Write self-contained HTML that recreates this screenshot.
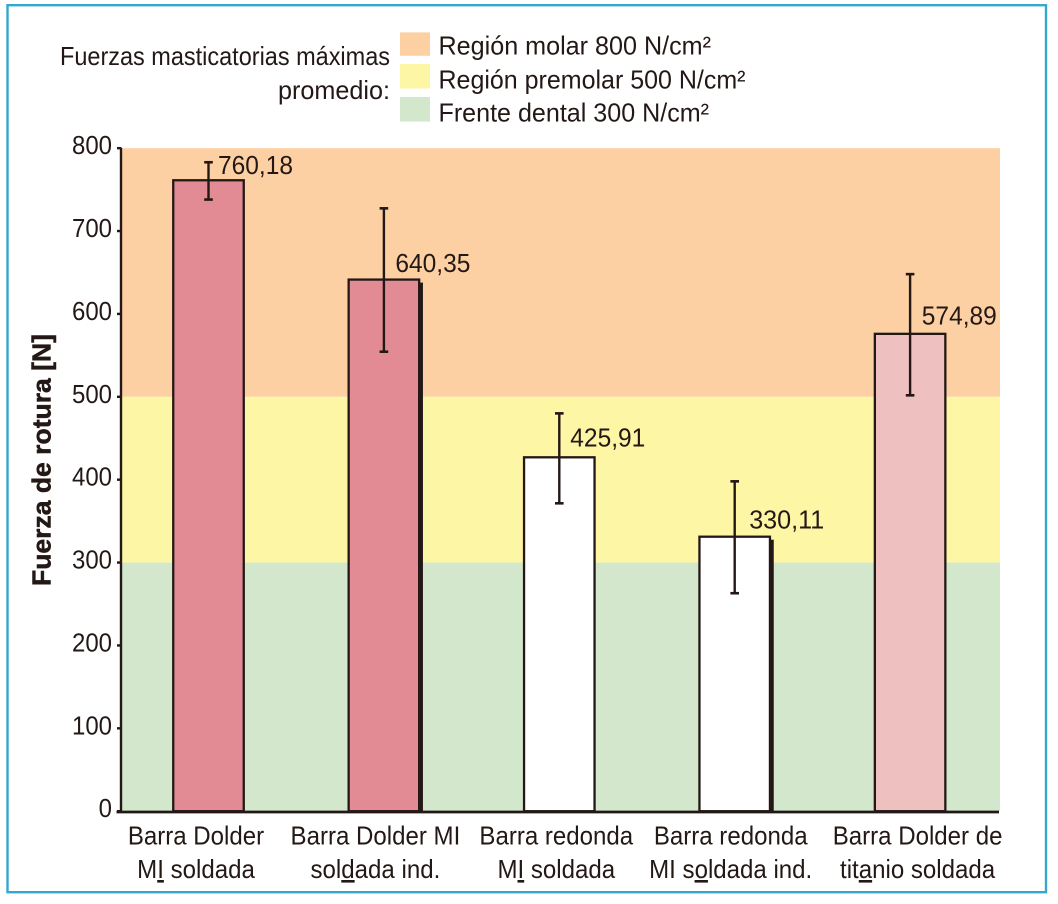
<!DOCTYPE html>
<html lang="es">
<head>
<meta charset="utf-8">
<title>Fuerza de rotura</title>
<style>
  html, body { margin: 0; padding: 0; background: #fff; }
  svg { display: block; font-family: "Liberation Sans", sans-serif; fill: #231815; }
</style>
</head>
<body>
<svg id="chart" xmlns="http://www.w3.org/2000/svg" width="1058" height="904" viewBox="0 0 1058 904">
  <rect x="0" y="0" width="1058" height="904" fill="#ffffff"/>
  <rect x="7.5" y="5.2" width="1038.5" height="887" fill="none" stroke="#35a7cc" stroke-width="2.4"/>
  <g font-size="26">
    <text x="60" y="65" textLength="330" lengthAdjust="spacingAndGlyphs">Fuerzas masticatorias máximas</text>
    <text x="278" y="99" textLength="112" lengthAdjust="spacingAndGlyphs">promedio:</text>
  </g>
  <g font-size="26">
    <rect x="400" y="32.4" width="30" height="23.4" fill="#fdd0a4"/>
    <text x="438.5" y="54.5" textLength="272.5" lengthAdjust="spacingAndGlyphs">Región molar 800 N/cm²</text>
    <rect x="400" y="64" width="30" height="24.5" fill="#fdf6a4"/>
    <text x="438.5" y="88.5" textLength="307" lengthAdjust="spacingAndGlyphs">Región premolar 500 N/cm²</text>
    <rect x="400" y="97" width="30" height="24.6" fill="#d2e7cb"/>
    <text x="438.5" y="121.5" textLength="270.5" lengthAdjust="spacingAndGlyphs">Frente dental 300 N/cm²</text>
  </g>
  <text transform="translate(50.7 586) rotate(-90)" font-size="26" font-weight="bold" stroke="#231815" stroke-width="0.5" textLength="252" lengthAdjust="spacingAndGlyphs">Fuerza de rotura [N]</text>
</svg>
<script>
const categoryLine1 = ['Barra Dolder', 'Barra Dolder MI', 'Barra redonda', 'Barra redonda', 'Barra Dolder de'];
const categoryLine2 = ['MI soldada', 'soldada ind.', 'MI soldada', 'MI soldada ind.', 'titanio soldada'];
const barValues = [760.18, 640.35, 425.91, 330.11, 574.89];
const errorHigh = [783, 727.4, 480, 398, 648];
const errorLow = [738, 554.4, 371.5, 263, 501.8];
const bandLimits = [800, 500, 300, 0];
const tickValues = [0, 100, 200, 300, 400, 500, 600, 700, 800];

const svg = document.getElementById('chart');
const NS = 'http://www.w3.org/2000/svg';
const INK = '#231815';

function yScale(v) { return 811.2 - 0.8288 * v; }
function xCenter(i) { return 208.5 + 175.4 * i; }

function make(tag, attrs, parent) {
  const el = document.createElementNS(NS, tag);
  for (const k in attrs) el.setAttribute(k, attrs[k]);
  (parent || svg).appendChild(el);
  return el;
}

function narrow(el, factor) {
  el.setAttribute('textLength', el.getComputedTextLength() * factor);
  el.setAttribute('lengthAdjust', 'spacingAndGlyphs');
}

function drawBands() {
  const fills = ['#fdd0a4', '#fdf6a4', '#d2e7cb'];
  const names = ['band-molar', 'band-premolar', 'band-frontal'];
  for (let i = 0; i < bandLimits.length - 1; i++) {
    const top = yScale(bandLimits[i]);
    const bottom = yScale(bandLimits[i + 1]);
    const el = make('rect', { x: 121, y: top, width: 879, height: bottom - top, fill: fills[i] });
    
    
  }
}

function drawBars() {
  const fills = ['#e28b95', '#e28b95', '#ffffff', '#ffffff', '#efc0c0'];
  const heavyRight = [false, true, false, true, false];
  const barWidth = 70.5;
  const barBase = yScale(0);
  barValues.forEach(function (value, i) {
    const cx = xCenter(i);
    const top = yScale(value) - 0.9;
    const bar = make('rect', {
      x: cx - barWidth / 2, y: top, width: barWidth, height: barBase - top,
      fill: fills[i], stroke: INK, 'stroke-width': 2.3
    });
    
    
    if (heavyRight[i]) {
      const edge = make('rect', {
        x: cx + barWidth / 2, y: top + 3, width: 3.8, height: barBase - top - 3, fill: INK
      });
      
      
    }
  });
}

function drawErrors() {
  barValues.forEach(function (value, i) {
    const cx = xCenter(i);
    const hi = yScale(errorHigh[i]);
    const lo = yScale(errorLow[i]);
    const stem = make('line', { x1: cx, x2: cx, y1: hi, y2: lo, stroke: INK, 'stroke-width': 2.4 });
    
    
    const capHigh = make('line', { x1: cx - 4.3, x2: cx + 4.3, y1: hi, y2: hi, stroke: INK, 'stroke-width': 2.6 });
    
    
    const capLow = make('line', { x1: cx - 4.3, x2: cx + 4.3, y1: lo, y2: lo, stroke: INK, 'stroke-width': 2.6 });
    
    
  });
}

function drawValueLabels() {
  const nudgeX = [9.5, 11.5, 11, 14.5, 11.7];
  const nudgeY = [-7, -8.5, -11.5, -9.3, -10.4];
  barValues.forEach(function (value, i) {
    const text = make('text', {
      x: xCenter(i) + nudgeX[i],
      y: yScale(value) + nudgeY[i],
      'font-size': 26,
      textLength: 75,
      lengthAdjust: 'spacingAndGlyphs'
    });
    text.textContent = value.toFixed(2).replace('.', ',');
    
    
  });
}

function drawAxes() {
  const yAxis = make('line', { x1: 121, x2: 121, y1: yScale(800) - 0.5, y2: 813, stroke: INK, 'stroke-width': 2.4 });
  
  
  const xAxis = make('line', { x1: 116.5, x2: 999, y1: 812, y2: 812, stroke: INK, 'stroke-width': 2.8 });
  
  
  tickValues.forEach(function (value) {
    const y = yScale(value);
    const mark = make('line', { x1: 117, x2: 121, y1: y, y2: y, stroke: INK, 'stroke-width': 2.4 });
    
    
    const label = make('text', { x: 112, y: y + 6, 'font-size': 25.5, 'text-anchor': 'end' });
    label.textContent = String(value);
    
    
    narrow(label, 0.94);
  });
}

function drawCategoryLabels() {
  const labelShift = [-12.5, -8.5, -3, -4, 7.5];
  const markedLetter = [1, 3, 1, 4, 3];
  categoryLine1.forEach(function (line, i) {
    const cx = xCenter(i) + labelShift[i];
    const first = make('text', { x: cx, y: 844.5, 'font-size': 26, 'text-anchor': 'middle' });
    first.textContent = line;
    
    
    narrow(first, 0.925);

    const second = make('text', { x: cx, y: 878, 'font-size': 26, 'text-anchor': 'middle' });
    
    
    const words = categoryLine2[i];
    const k = markedLetter[i];
    second.appendChild(document.createTextNode(words.slice(0, k)));
    const mark = make('tspan', { style: 'text-decoration:underline' }, second);
    mark.textContent = words.charAt(k);
    second.appendChild(document.createTextNode(words.slice(k + 1)));
    narrow(second, 0.925);
  });
}

drawBands();
drawBars();
drawErrors();
drawValueLabels();
drawAxes();
drawCategoryLabels();
</script>
</body>
</html>
